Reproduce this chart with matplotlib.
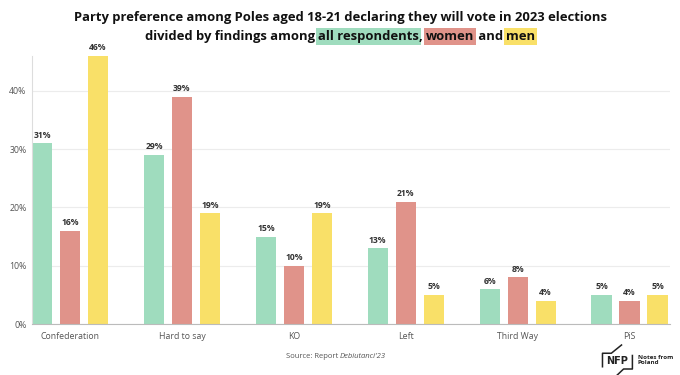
import matplotlib
matplotlib.use("Agg")
import matplotlib.pyplot as plt
import numpy as np

categories = ["Confederation", "Hard to say", "KO", "Left", "Third Way", "PiS"]
all_resp = [31, 29, 15, 13, 6, 5]
women = [16, 39, 10, 21, 8, 4]
men = [46, 19, 19, 5, 4, 5]
yticks = [0, 10, 20, 30, 40]

GREEN = "#9fdcbe"
RED = "#e0938a"
YELLOW = "#f9e068"
FONT = "Open Sans"

plt.rcParams['font.family'] = [FONT, 'DejaVu Sans']

fig = plt.figure(figsize=(6.8, 3.75), dpi=100)
fig.patch.set_facecolor("white")
ax = fig.add_axes([0.047, 0.136, 0.938, 0.715])

x = np.arange(len(categories))
off = 0.25
w = 0.18
series = [(all_resp, GREEN, -off), (women, RED, 0), (men, YELLOW, off)]
for vals, col, o in series:
    bars = ax.bar(x + o, vals, width=w, color=col, zorder=2)
    for b, v in zip(bars, vals):
        ax.text(b.get_x() + b.get_width() / 2, v + 0.6, f"{v}%", ha="center", va="bottom",
                fontsize=6.2, fontweight="bold", color="#333333")

ax.set_xlim(-0.34, 5.36)
ax.set_ylim(0, 46)
ax.set_yticks(yticks)
ax.set_yticklabels([f"{t}%" for t in yticks])
ax.set_xticks(x)
ax.set_xticklabels(categories)
ax.tick_params(axis="both", length=0, labelsize=6.3, labelcolor="#555555")
ax.tick_params(axis="x", pad=6)
ax.tick_params(axis="y", pad=4)
ax.grid(axis="y", color="#ececec", linewidth=0.8, zorder=0)
for s in ["top", "right"]:
    ax.spines[s].set_visible(False)
ax.spines["left"].set_color("#dddddd")
ax.spines["left"].set_linewidth(0.8)
ax.spines["bottom"].set_color("#bbbbbb")
ax.spines["bottom"].set_linewidth(0.8)

TS = 9.4
# Title
fig.text(0.5, 0.952, "Party preference among Poles aged 18-21 declaring they will vote in 2023 elections",
         ha="center", va="center", fontsize=TS, fontweight="bold", color="#111111")

pieces = [("divided by findings among ", None), ("all respondents", GREEN), (", ", None),
          ("women", RED), (" and ", None), ("men", YELLOW)]
fig.canvas.draw()
renderer = fig.canvas.get_renderer()

def tw(s):
    t = fig.text(0, 0, s, fontsize=TS, fontweight="bold")
    fig.canvas.draw()
    wdt = t.get_window_extent(renderer).width
    t.remove()
    return wdt

real_w = [tw("|" + s + "|") - tw("||") for s, c in pieces]
total = sum(real_w)
figw = fig.get_figwidth() * fig.dpi
xpos = (figw - total) / 2
for (s, c), wdt in zip(pieces, real_w):
    t = fig.text(xpos / figw, 0.903, s, ha="left", va="center", fontsize=TS, fontweight="bold", color="#111111")
    if c is not None:
        t.set_bbox(dict(facecolor=c, edgecolor="none", pad=1.3))
    xpos += wdt

# Source
fig.text(0.5, 0.048, "Source: Report ", ha="right", va="center", fontsize=5.5, color="#555555")
fig.text(0.5, 0.048, "Debiutanci'23", ha="left", va="center", fontsize=5.5, color="#555555", style="italic")

# Logo
tf = fig.transFigure
fig.text(0.908, 0.037, "NFP", ha="center", va="center", fontsize=7, fontweight="bold", color="#222222",
         family=["DejaVu Sans"])
fig.add_artist(plt.Line2D([0.886, 0.886, 0.899, 0.914], [0.022, 0.058, 0.058, 0.08], color="#222222", lw=1.1, transform=tf))
fig.add_artist(plt.Line2D([0.93, 0.93, 0.917, 0.906], [0.052, 0.016, 0.016, -0.003], color="#222222", lw=1.1, transform=tf))
fig.text(0.938, 0.04, "Notes from\nPoland", ha="left", va="center", fontsize=4.5, fontweight="bold",
         color="#222222", linespacing=1.1)

fig.savefig("out.png", dpi=100, facecolor="white")
